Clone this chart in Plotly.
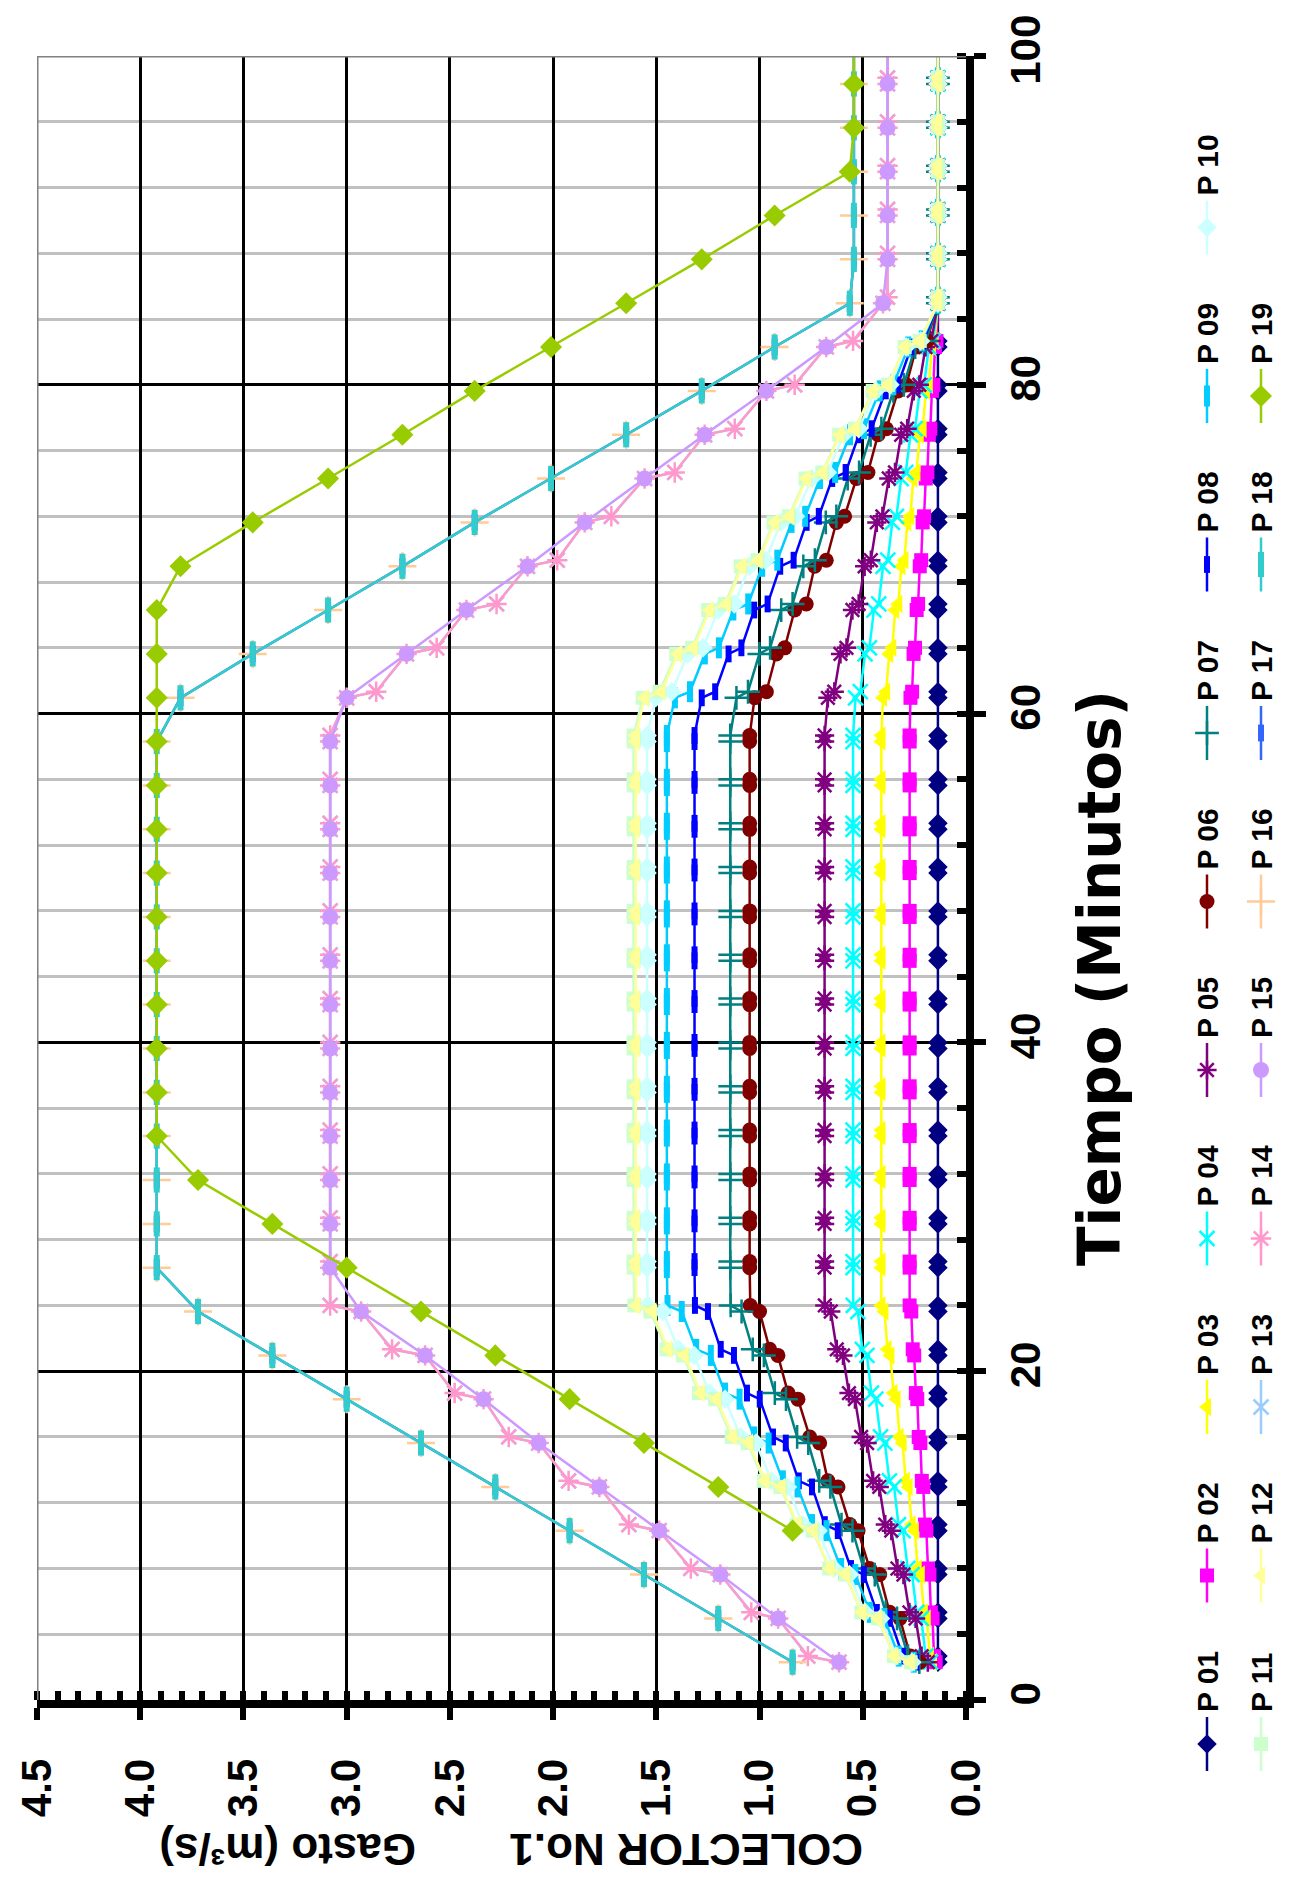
import plotly.graph_objects as go

# ---------------- data ----------------
TIEMPO_DOBLE = [2.30, 2.67, 4.96, 5.33, 7.63, 8.00, 10.30, 10.67, 12.96, 13.33,
                15.63, 16.00, 18.30, 18.67, 20.96, 21.33, 23.63, 24.00, 26.30, 26.67,
                28.96, 29.33, 31.63, 32.00, 34.30, 34.67, 36.96, 37.33, 39.63, 40.00,
                42.30, 42.67, 44.96, 45.33, 47.63, 48.00, 50.30, 50.67, 52.96, 53.33,
                55.63, 56.00, 58.30, 58.67, 60.96, 61.33, 63.63, 64.00, 66.30, 66.67,
                68.96, 69.33, 71.63, 72.00, 74.30, 74.67, 76.96, 77.33, 79.63, 80.00,
                82.30, 82.67, 84.96, 85.33, 87.63, 88.00, 90.30, 90.67, 92.96, 93.33,
                95.63, 96.00, 98.30, 98.67, 100.96, 101.33]

TIEMPO_SIMPLE = [2.30, 4.96, 7.63, 10.30, 12.96, 15.63, 18.30, 20.96, 23.63, 26.30,
                 28.96, 31.63, 34.30, 36.96, 39.63, 42.30, 44.96, 47.63, 50.30, 52.96,
                 55.63, 58.30, 60.96, 63.63, 66.30, 68.96, 71.63, 74.30, 76.96, 79.63,
                 82.30, 84.96, 87.63, 90.30, 92.96, 95.63, 98.30, 100.96]

Q_P01 = [0.136, 0.136, 0.136, 0.136, 0.136, 0.136, 0.136, 0.136, 0.136, 0.136,
         0.136, 0.136, 0.136, 0.136, 0.136, 0.136, 0.136, 0.136, 0.136, 0.136,
         0.136, 0.136, 0.136, 0.136, 0.136, 0.136, 0.136, 0.136, 0.136, 0.136,
         0.136, 0.136, 0.136, 0.136, 0.136, 0.136, 0.136, 0.136, 0.136, 0.136,
         0.136, 0.136, 0.136, 0.136, 0.136, 0.136, 0.136, 0.136, 0.136, 0.136,
         0.136, 0.136, 0.136, 0.136, 0.136, 0.136, 0.136, 0.136, 0.136, 0.136,
         0.136, 0.136, 0.136, 0.136, 0.136, 0.136, 0.136, 0.136, 0.136, 0.136,
         0.136, 0.136, 0.136, 0.136, 0.136, 0.136]

Q_P02 = [0.147, 0.155, 0.162, 0.170, 0.177, 0.184, 0.192, 0.199, 0.207, 0.214,
         0.221, 0.229, 0.236, 0.243, 0.251, 0.258, 0.265, 0.273,
         0.273, 0.273, 0.273, 0.273, 0.273, 0.273, 0.273, 0.273, 0.273, 0.273, 0.273, 0.273, 0.273,
         0.273, 0.273, 0.273, 0.273, 0.273, 0.273, 0.273, 0.273, 0.273, 0.273, 0.273, 0.273, 0.273,
         0.269, 0.261, 0.254, 0.247, 0.239, 0.232, 0.224, 0.217, 0.210, 0.203,
         0.195, 0.187, 0.180, 0.173, 0.165, 0.158, 0.150, 0.143, 0.136,
         0.136, 0.136, 0.136, 0.136, 0.136, 0.136, 0.136, 0.136, 0.136, 0.136, 0.136, 0.136, 0.136]

Q_P03 = [0.160, 0.175, 0.190, 0.204, 0.219, 0.234, 0.248, 0.263, 0.278, 0.292,
         0.307, 0.322, 0.336, 0.351, 0.366, 0.380, 0.395, 0.410,
         0.410, 0.410, 0.410, 0.410, 0.410, 0.410, 0.410, 0.410, 0.410, 0.410, 0.410, 0.410, 0.410,
         0.410, 0.410, 0.410, 0.410, 0.410, 0.410, 0.410, 0.410, 0.410, 0.410, 0.410, 0.410, 0.410,
         0.402, 0.387, 0.372, 0.357, 0.343, 0.328, 0.313, 0.298, 0.284, 0.270,
         0.255, 0.240, 0.224, 0.210, 0.194, 0.180, 0.165, 0.152, 0.136,
         0.136, 0.136, 0.136, 0.136, 0.136, 0.136, 0.136, 0.136, 0.136, 0.136, 0.136, 0.136, 0.136]

Q_P04 = [0.172, 0.195, 0.217, 0.239, 0.261, 0.282, 0.305, 0.327, 0.348, 0.371,
         0.393, 0.414, 0.437, 0.458, 0.480, 0.502, 0.524, 0.546,
         0.547, 0.547, 0.547, 0.547, 0.547, 0.547, 0.547, 0.547, 0.547, 0.547, 0.547, 0.547, 0.547,
         0.547, 0.547, 0.547, 0.547, 0.547, 0.547, 0.547, 0.547, 0.547, 0.547, 0.547, 0.547, 0.547,
         0.535, 0.512, 0.489, 0.468, 0.446, 0.423, 0.402, 0.379, 0.357, 0.337,
         0.314, 0.292, 0.269, 0.247, 0.224, 0.203, 0.180, 0.160, 0.136,
         0.136, 0.136, 0.136, 0.136, 0.136, 0.136, 0.136, 0.136, 0.136, 0.136, 0.136, 0.136, 0.136]

Q_P05 = [0.185, 0.215, 0.244, 0.274, 0.303, 0.332, 0.362, 0.391, 0.420, 0.450,
         0.479, 0.508, 0.538, 0.567, 0.596, 0.626, 0.655, 0.684,
         0.685, 0.685, 0.685, 0.685, 0.685, 0.685, 0.685, 0.685, 0.685, 0.685, 0.685, 0.685, 0.685,
         0.685, 0.685, 0.685, 0.685, 0.685, 0.685, 0.685, 0.685, 0.685, 0.685, 0.685, 0.685, 0.685,
         0.669, 0.638, 0.608, 0.579, 0.550, 0.520, 0.491, 0.461, 0.432, 0.405,
         0.374, 0.344, 0.314, 0.285, 0.253, 0.226, 0.196, 0.168, 0.136,
         0.136, 0.136, 0.136, 0.136, 0.136, 0.136, 0.136, 0.136, 0.136, 0.136, 0.136, 0.136, 0.136]

Q_P06 = [0.224, 0.270, 0.320, 0.370, 0.418, 0.467, 0.523, 0.563, 0.620, 0.669,
         0.709, 0.757, 0.814, 0.862, 0.911, 0.951, 1.000, 1.045,
         1.048, 1.048, 1.048, 1.048, 1.048, 1.048, 1.048, 1.048, 1.048, 1.048, 1.048, 1.048, 1.048,
         1.048, 1.048, 1.048, 1.048, 1.048, 1.048, 1.048, 1.048, 1.048, 1.048, 1.048, 1.048, 1.048,
         1.024, 0.967, 0.919, 0.878, 0.830, 0.774, 0.733, 0.677, 0.628, 0.588,
         0.531, 0.475, 0.426, 0.386, 0.329, 0.289, 0.240, 0.190, 0.136,
         0.136, 0.136, 0.136, 0.136, 0.136, 0.136, 0.136, 0.136, 0.136, 0.136, 0.136, 0.136, 0.136]

Q_P07 = [0.226, 0.281, 0.334, 0.389, 0.442, 0.496, 0.550, 0.603, 0.657, 0.711,
         0.764, 0.818, 0.872, 0.926, 0.979, 1.033, 1.087, 1.140,
         1.142, 1.142, 1.142, 1.142, 1.142, 1.142, 1.142, 1.142, 1.142, 1.142, 1.142, 1.142, 1.142,
         1.142, 1.142, 1.142, 1.142, 1.142, 1.142, 1.142, 1.142, 1.142, 1.142, 1.142, 1.142, 1.142,
         1.112, 1.056, 1.001, 0.949, 0.895, 0.840, 0.788, 0.732, 0.679, 0.628,
         0.573, 0.518, 0.462, 0.410, 0.352, 0.301, 0.246, 0.195, 0.136,
         0.136, 0.136, 0.136, 0.136, 0.136, 0.136, 0.136, 0.136, 0.136, 0.136, 0.136, 0.136, 0.136]

Q_P08 = [0.241, 0.306, 0.369, 0.432, 0.495, 0.557, 0.621, 0.684, 0.746, 0.810,
         0.873, 0.935, 0.999, 1.061, 1.124, 1.188, 1.250, 1.313,
         1.315, 1.315, 1.315, 1.315, 1.315, 1.315, 1.315, 1.315, 1.315, 1.315, 1.315, 1.315, 1.315,
         1.315, 1.315, 1.315, 1.315, 1.315, 1.315, 1.315, 1.315, 1.315, 1.315, 1.315, 1.315, 1.315,
         1.280, 1.215, 1.150, 1.088, 1.026, 0.961, 0.900, 0.835, 0.772, 0.713,
         0.648, 0.583, 0.519, 0.457, 0.389, 0.330, 0.265, 0.206, 0.136,
         0.136, 0.136, 0.136, 0.136, 0.136, 0.136, 0.136, 0.136, 0.136, 0.136, 0.136, 0.136, 0.136]

Q_P09 = [0.253, 0.326, 0.395, 0.466, 0.536, 0.605, 0.676, 0.746, 0.816, 0.887,
         0.956, 1.026, 1.097, 1.167, 1.236, 1.307, 1.377, 1.446,
         1.449, 1.449, 1.449, 1.449, 1.449, 1.449, 1.449, 1.449, 1.449, 1.449, 1.449, 1.449, 1.449,
         1.449, 1.449, 1.449, 1.449, 1.449, 1.449, 1.449, 1.449, 1.449, 1.449, 1.449, 1.449, 1.449,
         1.410, 1.337, 1.265, 1.197, 1.127, 1.055, 0.987, 0.914, 0.845, 0.779,
         0.707, 0.634, 0.562, 0.494, 0.418, 0.352, 0.280, 0.214, 0.136,
         0.136, 0.136, 0.136, 0.136, 0.136, 0.136, 0.136, 0.136, 0.136, 0.136, 0.136, 0.136, 0.136]

Q_P10 = [0.262, 0.340, 0.414, 0.490, 0.565, 0.640, 0.716, 0.791, 0.865, 0.942,
         1.016, 1.091, 1.167, 1.242, 1.317, 1.393, 1.468, 1.542,
         1.545, 1.545, 1.545, 1.545, 1.545, 1.545, 1.545, 1.545, 1.545, 1.545, 1.545, 1.545, 1.545,
         1.545, 1.545, 1.545, 1.545, 1.545, 1.545, 1.545, 1.545, 1.545, 1.545, 1.545, 1.545, 1.545,
         1.503, 1.425, 1.348, 1.274, 1.200, 1.122, 1.049, 0.971, 0.896, 0.826,
         0.748, 0.671, 0.593, 0.520, 0.438, 0.368, 0.290, 0.220, 0.136,
         0.136, 0.136, 0.136, 0.136, 0.136, 0.136, 0.136, 0.136, 0.136, 0.136, 0.136, 0.136, 0.136]

Q_P11 = [0.268, 0.349, 0.427, 0.507, 0.585, 0.663, 0.743, 0.821, 0.899, 0.979,
         1.057, 1.135, 1.215, 1.293, 1.371, 1.451, 1.529, 1.607,
         1.610, 1.610, 1.610, 1.610, 1.610, 1.610, 1.610, 1.610, 1.610, 1.610, 1.610, 1.610, 1.610,
         1.610, 1.610, 1.610, 1.610, 1.610, 1.610, 1.610, 1.610, 1.610, 1.610, 1.610, 1.610, 1.610,
         1.566, 1.485, 1.404, 1.327, 1.249, 1.168, 1.091, 1.010, 0.932, 0.858,
         0.777, 0.696, 0.614, 0.538, 0.452, 0.378, 0.297, 0.224, 0.136,
         0.136, 0.136, 0.136, 0.136, 0.136, 0.136, 0.136, 0.136, 0.136, 0.136, 0.136, 0.136, 0.136]

Q_P12 = [0.267, 0.347, 0.425, 0.504, 0.582, 0.659, 0.739, 0.816, 0.894, 0.973,
         1.051, 1.128, 1.207, 1.285, 1.363, 1.442, 1.519, 1.597,
         1.600, 1.600, 1.600, 1.600, 1.600, 1.600, 1.600, 1.600, 1.600, 1.600, 1.600, 1.600, 1.600,
         1.600, 1.600, 1.600, 1.600, 1.600, 1.600, 1.600, 1.600, 1.600, 1.600, 1.600, 1.600, 1.600,
         1.556, 1.475, 1.395, 1.319, 1.241, 1.160, 1.084, 1.004, 0.926, 0.853,
         0.772, 0.692, 0.611, 0.535, 0.450, 0.377, 0.296, 0.223, 0.136,
         0.136, 0.136, 0.136, 0.136, 0.136, 0.136, 0.136, 0.136, 0.136, 0.136, 0.136, 0.136, 0.136]

Q_P13 = [0.615, 0.766, 0.910, 1.040, 1.190, 1.333, 1.486, 1.633, 1.776, 1.925,
         2.070, 2.215, 2.337, 2.477, 2.620, 2.780, 2.930, 3.080,
         3.080, 3.080, 3.080, 3.080, 3.080, 3.080, 3.080, 3.080, 3.080, 3.080, 3.080, 3.080, 3.080,
         3.080, 3.080, 3.080, 3.080, 3.080, 3.080, 3.080, 3.080, 3.080, 3.080, 3.080, 3.080, 3.080,
         3.000, 2.857, 2.710, 2.564, 2.420, 2.274, 2.124, 1.980, 1.847, 1.718,
         1.557, 1.411, 1.266, 1.120, 0.967, 0.830, 0.677, 0.547, 0.402,
         0.380, 0.380, 0.380, 0.380, 0.380, 0.380, 0.380, 0.380, 0.380, 0.380, 0.380, 0.380, 0.380]

Q_P14 = [0.615, 0.766, 0.910, 1.040, 1.190, 1.333, 1.486, 1.633, 1.776, 1.925,
         2.070, 2.215, 2.337, 2.477, 2.620, 2.780, 2.930, 3.080,
         3.080, 3.080, 3.080, 3.080, 3.080, 3.080, 3.080, 3.080, 3.080, 3.080, 3.080, 3.080, 3.080,
         3.080, 3.080, 3.080, 3.080, 3.080, 3.080, 3.080, 3.080, 3.080, 3.080, 3.080, 3.080, 3.080,
         3.000, 2.857, 2.710, 2.564, 2.420, 2.274, 2.124, 1.980, 1.847, 1.718,
         1.557, 1.411, 1.266, 1.120, 0.967, 0.830, 0.677, 0.547, 0.402,
         0.380, 0.380, 0.380, 0.380, 0.380, 0.380, 0.380, 0.380, 0.380, 0.380, 0.380, 0.380, 0.380]

Q_P15 = [0.615, 0.910, 1.190, 1.486, 1.776, 2.070, 2.337, 2.620, 2.930,
         3.080, 3.080, 3.080, 3.080, 3.080, 3.080, 3.080, 3.080, 3.080, 3.080, 3.080, 3.080, 3.080,
         3.000, 2.710, 2.420, 2.124, 1.847, 1.557, 1.266, 0.967, 0.677, 0.402,
         0.380, 0.380, 0.380, 0.380, 0.380, 0.380]

Q_P16 = [0.840, 1.200, 1.560, 1.920, 2.280, 2.640, 3.000, 3.360, 3.720,
         3.920, 3.920, 3.920, 3.920, 3.920, 3.920, 3.920, 3.920, 3.920, 3.920, 3.920, 3.920, 3.920,
         3.805, 3.455, 3.090, 2.730, 2.380, 2.010, 1.646, 1.280, 0.927, 0.563,
         0.543, 0.543, 0.543, 0.543, 0.543, 0.543]

Q_P17 = [0.840, 1.200, 1.560, 1.920, 2.280, 2.640, 3.000, 3.360, 3.720,
         3.920, 3.920, 3.920, 3.920, 3.920, 3.920, 3.920, 3.920, 3.920, 3.920, 3.920, 3.920, 3.920,
         3.805, 3.455, 3.090, 2.730, 2.380, 2.010, 1.646, 1.280, 0.927, 0.563,
         0.543, 0.543, 0.543, 0.543, 0.543, 0.543]

Q_P18 = [0.840, 1.200, 1.560, 1.920, 2.280, 2.640, 3.000, 3.360, 3.720,
         3.920, 3.920, 3.920, 3.920, 3.920, 3.920, 3.920, 3.920, 3.920, 3.920, 3.920, 3.920, 3.920,
         3.805, 3.455, 3.090, 2.730, 2.380, 2.010, 1.646, 1.280, 0.927, 0.563,
         0.543, 0.543, 0.543, 0.543, 0.543, 0.543]

Q_P19 = [None, None, None,
         0.840, 1.200, 1.560, 1.920, 2.280, 2.640, 3.000, 3.360, 3.720,
         3.920, 3.920, 3.920, 3.920, 3.920, 3.920, 3.920, 3.920, 3.920, 3.920, 3.920, 3.920, 3.920,
         3.805, 3.455, 3.090, 2.730, 2.380, 2.010, 1.646, 1.280, 0.927, 0.563,
         0.543, 0.543, 0.543]

NOMBRES = ["P 01", "P 02", "P 03", "P 04", "P 05", "P 06", "P 07", "P 08", "P 09", "P 10",
           "P 11", "P 12", "P 13", "P 14", "P 15", "P 16", "P 17", "P 18", "P 19"]

GASTO_TICKS = [0.0, 0.5, 1.0, 1.5, 2.0, 2.5, 3.0, 3.5, 4.0, 4.5]
TIEMPO_TICKS = [0, 20, 40, 60, 80, 100]

SERIES_Q = [Q_P01, Q_P02, Q_P03, Q_P04, Q_P05, Q_P06, Q_P07, Q_P08, Q_P09, Q_P10,
            Q_P11, Q_P12, Q_P13, Q_P14, Q_P15, Q_P16, Q_P17, Q_P18, Q_P19]
SERIES_T = [TIEMPO_DOBLE] * 14 + [TIEMPO_SIMPLE] * 5

# ---------------- styles ----------------
COLORES = ["#000080", "#FF00FF", "#FFFF00", "#00FFFF", "#800080", "#800000", "#008080",
           "#0000FF", "#00CCFF", "#CCFFFF", "#CCFFCC", "#FFFF99", "#99CCFF", "#FF99CC",
           "#CC99FF", "#FFCC99", "#3366FF", "#33CCCC", "#99CC00"]
SIMBOLOS = ["diamond", "square", "triangle-left", "x-thin-open", "asterisk-open", "circle",
            "cross-thin-open", "line-ns-open", "line-ns-open", "diamond", "square",
            "triangle-left", "x-thin-open", "asterisk-open", "circle", "cross-thin-open",
            "line-ns-open", "line-ns-open", "diamond"]
TAMANOS = [15, 14, 16, 15, 16, 15, 17, 12, 15, 15, 14, 16, 15, 17, 16, 20, 12, 18, 17]

def marker_style(i):
    sym = SIMBOLOS[i]
    col = COLORES[i]
    if sym.startswith("line-ns"):
        return dict(symbol=sym, size=TAMANOS[i], color=col, line=dict(color=col, width=6))
    if sym.endswith("-open"):
        return dict(symbol=sym, size=TAMANOS[i], color=col, line=dict(color=col, width=2.5))
    return dict(symbol=sym, size=TAMANOS[i], color=col, line=dict(width=0))

FONT = "Liberation Sans, Arial, Helvetica, sans-serif"
W, H = 1293, 1881
X0, X1 = 29, 958      # plot area in pixels
Y0, Y1 = 48, 1692

fig = go.Figure()

for i in range(19):
    fig.add_trace(go.Scatter(
        x=SERIES_Q[i], y=SERIES_T[i], mode="lines+markers", name=NOMBRES[i],
        line=dict(color=COLORES[i], width=2.5), marker=marker_style(i),
        xaxis="x", yaxis="y", connectgaps=False, hoverinfo="skip"))

# ---------------- custom rotated legend ----------------
LEG_X = [1199, 1253]
LEG_Y0 = 1736
LEG_DY = 168.5
for i in range(19):
    col = 0 if i < 10 else 1
    row = i if i < 10 else i - 10
    lx = LEG_X[col]
    ly = LEG_Y0 - LEG_DY * row
    fig.add_trace(go.Scatter(x=[lx, lx], y=[ly - 27, ly + 27], mode="lines",
                             line=dict(color=COLORES[i], width=2.5),
                             xaxis="x2", yaxis="y2", hoverinfo="skip"))
    fig.add_trace(go.Scatter(x=[lx], y=[ly], mode="markers", marker=marker_style(i),
                             xaxis="x2", yaxis="y2", hoverinfo="skip"))
    fig.add_annotation(x=lx, y=ly - 62, xref="x2", yref="y2", text=NOMBRES[i],
                       textangle=-90, showarrow=False, xanchor="center", yanchor="middle",
                       font=dict(family=FONT, size=30, color="black", weight="bold"))

# titles
fig.add_annotation(x=1092, y=970, xref="x2", yref="y2", text="Tiempo (Minutos)",
                   textangle=-90, showarrow=False, xanchor="center", yanchor="middle",
                   font=dict(family="DejaVu Sans, Liberation Sans, sans-serif", size=58,
                             color="black", weight="bold"))
fig.add_annotation(x=678, y=1842, xref="x2", yref="y2", text="COLECTOR No.1",
                   textangle=180, showarrow=False, xanchor="center", yanchor="middle",
                   font=dict(family=FONT, size=44, color="black", weight="bold"))
fig.add_annotation(x=280, y=1842, xref="x2", yref="y2", text="Gasto (m³/s)",
                   textangle=180, showarrow=False, xanchor="center", yanchor="middle",
                   font=dict(family=FONT, size=44, color="black", weight="bold"))

tickfont = dict(family=FONT, size=42, color="black", weight="bold")

fig.update_layout(
    template="none",
    width=W, height=H, margin=dict(l=0, r=0, t=0, b=0, autoexpand=False),
    paper_bgcolor="white", plot_bgcolor="rgba(0,0,0,0)", showlegend=False,
    xaxis=dict(domain=[X0 / W, X1 / W], range=[4.5, 0], autorange=False,
               tickmode="array", tickvals=GASTO_TICKS,
               ticktext=["%.1f" % v for v in GASTO_TICKS],
               tickangle=-90, tickfont=tickfont, ticklabelstandoff=22,
               showgrid=True, gridcolor="black", gridwidth=2.5, zeroline=False,
               showline=True, linecolor="black", linewidth=8,
               ticks="outside", ticklen=12, tickwidth=6, tickcolor="black",
               minor=dict(tickmode="linear", tick0=0, dtick=0.1, ticks="inside",
                          ticklen=9, tickwidth=6, tickcolor="black", showgrid=False),
               anchor="y", automargin=False, fixedrange=True),
    yaxis=dict(domain=[(H - Y1) / H, (H - Y0) / H], range=[0, 100], autorange=False,
               side="right", tickmode="array", tickvals=TIEMPO_TICKS,
               tickangle=-90, tickfont=tickfont, ticklabelstandoff=4,
               showgrid=True, gridcolor="black", gridwidth=2.5, zeroline=False,
               showline=True, linecolor="black", linewidth=8,
               ticks="outside", ticklen=12, tickwidth=6, tickcolor="black",
               minor=dict(tickmode="linear", tick0=0, dtick=4, ticks="inside",
                          ticklen=9, tickwidth=6, tickcolor="black",
                          showgrid=True, gridcolor="#C0C0C0", gridwidth=2.5),
               anchor="x", automargin=False, fixedrange=True),
    xaxis2=dict(domain=[0, 1], range=[0, W], visible=False, anchor="y2", fixedrange=True),
    yaxis2=dict(domain=[0, 1], range=[H, 0], visible=False, anchor="x2", fixedrange=True),
)

# gray plot-area border on the left and top
fig.add_shape(type="line", xref="x", yref="y", x0=4.5, y0=0, x1=4.5, y1=100,
              line=dict(color="#808080", width=3), layer="above")
fig.add_shape(type="line", xref="x", yref="y", x0=4.5, y0=100, x1=0, y1=100,
              line=dict(color="#808080", width=3), layer="above")

fig.write_html("out.html")
